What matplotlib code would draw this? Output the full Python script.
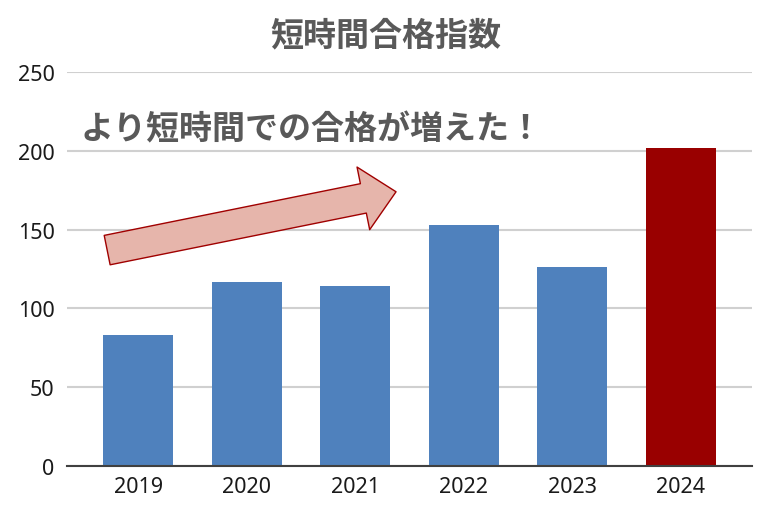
import matplotlib
matplotlib.use("Agg")
import matplotlib.pyplot as plt

years = ["2019", "2020", "2021", "2022", "2023", "2024"]
values = [83, 117, 114, 153, 126, 202]
colors = ["#4f81bd", "#4f81bd", "#4f81bd", "#4f81bd", "#4f81bd", "#990000"]
yticks = [0, 50, 100, 150, 200, 250]
title = "短時間合格指数"
note = "より短時間での合格が増えた！"

plt.rcParams['font.family'] = ['Noto Sans CJK JP', 'DejaVu Sans']

fig = plt.figure(figsize=(7.62, 5.06), dpi=100)
ax = fig.add_axes([67/762, 1-467/506, (752-67)/762, (467-73)/506])

x = list(range(len(years)))
ax.bar(x, values, width=0.645, color=colors, zorder=3)

ax.set_xlim(-0.655, 5.655)
ax.set_ylim(0, 250)
ax.set_yticks(yticks)
ax.set_xticks(x)
ax.set_xticklabels(years)
ax.grid(axis='y', color='#d0d0d0', linewidth=1.5, zorder=0)
for s in ['top', 'right', 'left']:
    ax.spines[s].set_visible(False)
ax.spines['bottom'].set_color('#404040')
ax.spines['bottom'].set_linewidth(1.5)
ax.spines['bottom'].set_zorder(4)
ax.tick_params(axis='both', length=0, labelsize=15.5, labelcolor='#1a1a1a')
ax.tick_params(axis='y', pad=9)
ax.tick_params(axis='x', pad=7)
for lab in ax.get_xticklabels() + ax.get_yticklabels():
    lab.set_family(['Noto Sans', 'DejaVu Sans'])

fig.text(0.507, 0.929, title, ha='center', va='center', fontsize=23.8,
         fontweight='bold', color='#595959')

ax.annotate('', xy=(2.376, 174), xytext=(-0.285, 137),
            arrowprops=dict(arrowstyle='simple,head_length=1.2,head_width=2.3,tail_width=1.08',
                            fc='#e6b5ab', ec='#a00000', lw=1.0,
                            shrinkA=0, shrinkB=0, mutation_scale=20),
            zorder=5)

ax.text(-0.53, 214, note, ha='left', va='center', fontsize=23.8,
        fontweight='bold', color='#595959', zorder=6)

fig.savefig('out.png', dpi=100)
